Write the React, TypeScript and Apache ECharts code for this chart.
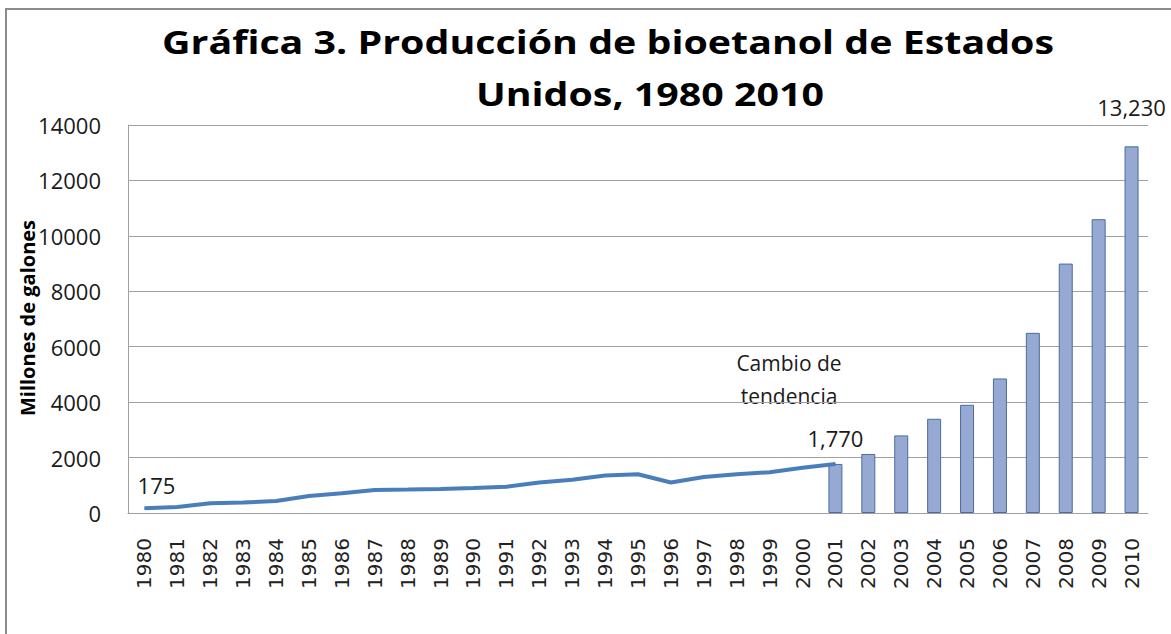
import React, { useEffect, useRef } from "react";
import * as echarts from "echarts";

const years: string[] = [
  "1980", "1981", "1982", "1983", "1984", "1985", "1986", "1987", "1988", "1989",
  "1990", "1991", "1992", "1993", "1994", "1995", "1996", "1997", "1998", "1999",
  "2000", "2001", "2002", "2003", "2004", "2005", "2006", "2007", "2008", "2009", "2010",
];

// Production before the change of trend (line)
const lineValues: (number | null)[] = [
  175, 215, 350, 375, 430, 610, 710, 830, 845, 870,
  900, 950, 1100, 1200, 1350, 1400, 1100, 1300, 1400, 1470,
  1630, 1770, null, null, null, null, null, null, null, null, null,
];

// Production after the change of trend (bars)
const barValues: (number | null)[] = [
  null, null, null, null, null, null, null, null, null, null,
  null, null, null, null, null, null, null, null, null, null,
  null, 1770, 2130, 2800, 3400, 3904, 4855, 6500, 9000, 10600, 13230,
];

const lineLabelYears: string[] = ["1980", "2001"];
const barLabelYears: string[] = ["2010"];

const titleLine1 = "Gráfica 3. Producción de bioetanol de Estados";
const titleLine2 = "Unidos, 1980 2010";
const yAxisName = "Millones de galones";
const annotation = "Cambio de\ntendencia";

const fmt = (v: number) => v.toLocaleString("en-US");

export default function App() {
  const ref = useRef<HTMLDivElement>(null);

  useEffect(() => {
    if (!ref.current) return;
    const chart = echarts.init(ref.current, undefined, { renderer: "svg" });

    const labelFont = { fontFamily: "Open Sans", fontSize: 22, color: "#1a1a1a" };

    const lineData = lineValues.map((v, i) => {
      if (v !== null && lineLabelYears.includes(years[i])) {
        const first = i === 0;
        return {
          value: v,
          label: {
            show: true,
            position: "top",
            distance: first ? 12 : 14,
            offset: first ? [12, 0] : [0, 0],
            formatter: (p: any) => fmt(p.value),
            ...labelFont,
          },
        };
      }
      return v;
    });

    const barData = barValues.map((v, i) => {
      if (v !== null && barLabelYears.includes(years[i])) {
        return {
          value: v,
          label: {
            show: true,
            position: "top",
            distance: 28,
            formatter: (p: any) => fmt(p.value),
            ...labelFont,
          },
        };
      }
      return v;
    });

    const titleStyle = {
      fontFamily: "Open Sans",
      fontWeight: "bold",
      fontSize: 32,
      fill: "#000",
      textAlign: "center",
      textVerticalAlign: "middle",
    };

    chart.setOption({
      animation: false,
      backgroundColor: "#ffffff",
      grid: { left: 128, top: 125, right: 23, bottom: 121, containLabel: false },
      xAxis: {
        type: "category",
        data: years,
        boundaryGap: true,
        axisLine: { show: true, lineStyle: { color: "#a0a0a0", width: 1 } },
        axisTick: { show: false },
        axisLabel: {
          rotate: 90,
          margin: 25,
          interval: 0,
          fontFamily: "DejaVu Sans",
          fontSize: 20,
          color: "#222",
        },
        splitLine: { show: false },
      },
      yAxis: {
        type: "value",
        min: 0,
        max: 14000,
        interval: 2000,
        axisLine: { show: true, lineStyle: { color: "#a0a0a0", width: 1 } },
        axisTick: { show: false },
        axisLabel: {
          margin: 27,
          fontFamily: "Open Sans",
          fontSize: 22,
          color: "#1a1a1a",
          formatter: (v: number) => String(v),
        },
        splitLine: { show: true, lineStyle: { color: "#a0a0a0", width: 1 } },
      },
      series: [
        {
          type: "bar",
          data: barData,
          barWidth: 14,
          itemStyle: { color: "#95a9d3", borderColor: "#4b6c9e", borderWidth: 1 },
          z: 2,
        },
        {
          type: "line",
          data: lineData,
          showSymbol: true,
          symbol: "circle",
          symbolSize: 1,
          itemStyle: { color: "#4a7ebb" },
          connectNulls: false,
          lineStyle: { color: "#4a7ebb", width: 4 },
          z: 3,
        },
      ],
      graphic: [
        {
          type: "rect",
          shape: { x: 6, y: 9, width: 1300, height: 800 },
          style: { fill: "none", stroke: "#8c8c8c", lineWidth: 2 },
          silent: true,
        },
        {
          type: "text",
          x: 608,
          y: 42,
          scaleX: 1.23,
          style: { text: titleLine1, ...titleStyle },
        },
        {
          type: "text",
          x: 650,
          y: 94,
          scaleX: 1.23,
          style: { text: titleLine2, ...titleStyle },
        },
        {
          type: "text",
          x: 27,
          y: 318,
          rotation: Math.PI / 2,
          style: {
            text: yAxisName,
            fontFamily: "Open Sans",
            fontWeight: "bold",
            fontSize: 20,
            fill: "#000",
            textAlign: "center",
            textVerticalAlign: "middle",
          },
        },
        {
          type: "text",
          x: 789,
          y: 379,
          style: {
            text: annotation,
            fontFamily: "Open Sans",
            fontSize: 21,
            lineHeight: 33,
            fill: "#1a1a1a",
            textAlign: "center",
            textVerticalAlign: "middle",
          },
        },
      ],
    });

    return () => chart.dispose();
  }, []);

  return (
    <div
      ref={ref}
      style={{ position: "fixed", left: 0, top: 0, width: 1171, height: 634, background: "#fff" }}
    />
  );
}
